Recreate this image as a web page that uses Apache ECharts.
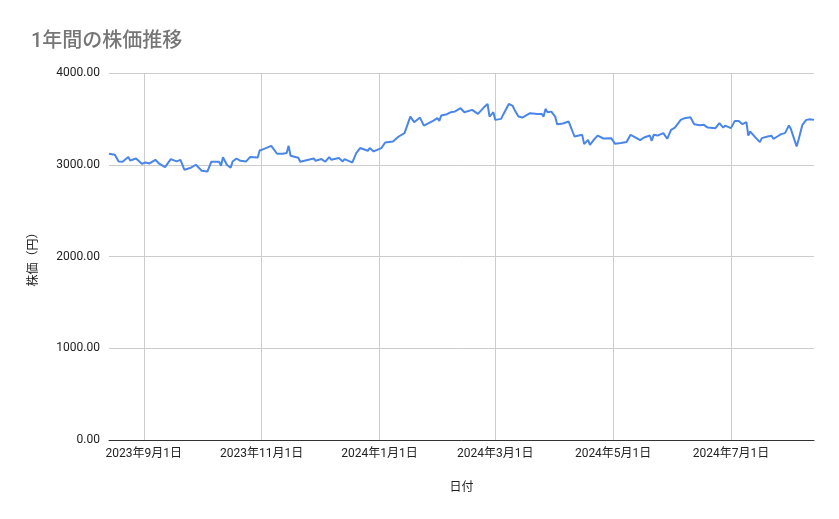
<!DOCTYPE html>
<html><head><meta charset="utf-8">
<script src="https://cdn.jsdelivr.net/npm/echarts@6/dist/echarts.min.js"></script>
<style>html,body{margin:0;padding:0;background:#fff}#c{width:839px;height:519px}</style>
</head><body><div id="c"></div>
<script>
const chartTitle = '1年間の株価推移';
const xName = '日付';
const yName = '株価（円）';
const dates = ['2023-08-14','2023-08-17','2023-08-19','2023-08-21','2023-08-24','2023-08-25','2023-08-28','2023-08-29','2023-08-31',
'2023-09-02','2023-09-04','2023-09-07','2023-09-09','2023-09-12','2023-09-15','2023-09-18','2023-09-20','2023-09-22','2023-09-25','2023-09-28',
'2023-10-01','2023-10-02','2023-10-04','2023-10-06','2023-10-10','2023-10-11','2023-10-12','2023-10-14','2023-10-16','2023-10-17','2023-10-19','2023-10-21','2023-10-24','2023-10-26','2023-10-30','2023-10-31',
'2023-11-02','2023-11-06','2023-11-09','2023-11-12','2023-11-14','2023-11-15','2023-11-16','2023-11-20','2023-11-21','2023-11-22','2023-11-28','2023-11-29',
'2023-12-02','2023-12-04','2023-12-06','2023-12-07','2023-12-11','2023-12-13','2023-12-14','2023-12-16','2023-12-18','2023-12-20','2023-12-22','2023-12-26','2023-12-27','2023-12-29',
'2024-01-02','2024-01-04','2024-01-08','2024-01-11','2024-01-14','2024-01-17','2024-01-19','2024-01-22','2024-01-24','2024-01-29','2024-01-30','2024-01-31',
'2024-02-01','2024-02-02','2024-02-05','2024-02-06','2024-02-07','2024-02-09','2024-02-12','2024-02-14','2024-02-18','2024-02-21','2024-02-24','2024-02-26','2024-02-27','2024-02-29',
'2024-03-01','2024-03-04','2024-03-05','2024-03-08','2024-03-10','2024-03-11','2024-03-13','2024-03-15','2024-03-19','2024-03-23','2024-03-25','2024-03-26','2024-03-27','2024-03-28','2024-03-30',
'2024-04-01','2024-04-02','2024-04-05','2024-04-08','2024-04-09','2024-04-11','2024-04-15','2024-04-16','2024-04-18','2024-04-19','2024-04-21','2024-04-23','2024-04-24','2024-04-26','2024-04-30',
'2024-05-02','2024-05-05','2024-05-08','2024-05-10','2024-05-12','2024-05-13','2024-05-15','2024-05-17','2024-05-20','2024-05-21','2024-05-22','2024-05-24','2024-05-27','2024-05-29','2024-05-31',
'2024-06-02','2024-06-05','2024-06-07','2024-06-10','2024-06-12','2024-06-15','2024-06-17','2024-06-19','2024-06-23','2024-06-25','2024-06-26','2024-06-27','2024-06-28',
'2024-07-01','2024-07-03','2024-07-05','2024-07-07','2024-07-09','2024-07-10','2024-07-11','2024-07-14','2024-07-16','2024-07-17','2024-07-20','2024-07-22','2024-07-23','2024-07-25','2024-07-27','2024-07-29','2024-07-31',
'2024-08-01','2024-08-04','2024-08-05','2024-08-07','2024-08-09','2024-08-11','2024-08-13'];
const prices = [3120,3109,3036,3033,3084,3047,3068,3062,3011,
3025,3014,3054,3011,2975,3062,3036,3054,2946,2964,3000,
2935,2916,2927,3033,3033,2989,3081,3000,2967,3036,3068,3043,3036,3084,3080,3155,
3171,3206,3120,3120,3127,3206,3098,3076,3033,3054,3068,3043,
3062,3033,3084,3054,3073,3036,3062,3043,3025,3127,3182,3152,3182,3145,
3182,3242,3253,3308,3345,3525,3464,3514,3427,3481,3478,3508,
3478,3536,3551,3536,3573,3579,3616,3573,3598,3554,3623,3663,3525,3573,
3489,3500,3543,3663,3641,3598,3525,3514,3562,3554,3554,3525,3609,3573,3579,
3525,3442,3449,3471,3489,3308,3326,3225,3272,3217,3272,3318,3318,3286,3290,
3228,3236,3247,3326,3304,3318,3268,3297,3318,3261,3326,3318,3345,3283,3380,
3405,3489,3508,3518,3442,3431,3435,3405,3399,3453,3453,3405,3427,
3399,3478,3478,3442,3464,3318,3362,3290,3247,3290,3308,3315,3283,3308,3334,3345,3427,
3391,3199,3272,3435,3489,3497,3489];
const xTickDates = ['2023-09-01','2023-11-01','2024-01-01','2024-03-01','2024-05-01','2024-07-01'];
const yTickValues = [0,1000,2000,3000,4000];

const ts = s => { const p = s.split('-').map(Number); return Date.UTC(p[0], p[1]-1, p[2]); };
const fmtDate = v => { const d = new Date(v); return d.getUTCFullYear() + '年' + (d.getUTCMonth()+1) + '月' + d.getUTCDate() + '日'; };
const font = 'Roboto, "Noto Sans CJK JP", sans-serif';
const xTicks = xTickDates.map(ts);

const chart = echarts.init(document.getElementById('c'), null, {renderer: 'canvas'});
chart.setOption({
  animation: false,
  backgroundColor: '#ffffff',
  title: {text: chartTitle, left: 26, top: 27,
    textStyle: {fontSize: 20, fontWeight: 500, color: '#757575', fontFamily: font}},
  grid: {left: 109, right: 25, top: 73, bottom: 79, containLabel: false, outerBoundsMode: 'none'},
  xAxis: {
    type: 'value', min: ts(dates[0]), max: ts(dates[dates.length-1]),
    name: xName, nameLocation: 'middle', nameGap: 42,
    nameTextStyle: {color: '#222', fontSize: 12, fontFamily: font},
    axisLine: {show: true, lineStyle: {color: '#333', width: 1}},
    axisTick: {show: false, customValues: xTicks},
    axisLabel: {customValues: xTicks, formatter: v => fmtDate(v), color: '#222', fontSize: 12, margin: 8, fontFamily: font, hideOverlap: false, showMinLabel: true, showMaxLabel: true},
    splitLine: {show: true, lineStyle: {color: '#cccccc', width: 1}}
  },
  yAxis: {
    type: 'value', min: yTickValues[0], max: yTickValues[yTickValues.length-1], interval: yTickValues[1]-yTickValues[0],
    name: yName, nameLocation: 'middle', nameGap: 69,
    nameTextStyle: {color: '#222', fontSize: 12, fontFamily: font},
    axisLine: {show: false}, axisTick: {show: false},
    axisLabel: {formatter: v => v.toFixed(2), color: '#222', fontSize: 12, margin: 9, fontFamily: font},
    splitLine: {show: true, lineStyle: {color: '#cccccc', width: 1}}
  },
  series: [{
    type: 'line', data: dates.map((d, i) => [ts(d), prices[i]]),
    showSymbol: false, symbol: 'none', smooth: false,
    lineStyle: {color: '#4a86e8', width: 2}, itemStyle: {color: '#4a86e8'}
  }]
});
</script>
</body></html>
